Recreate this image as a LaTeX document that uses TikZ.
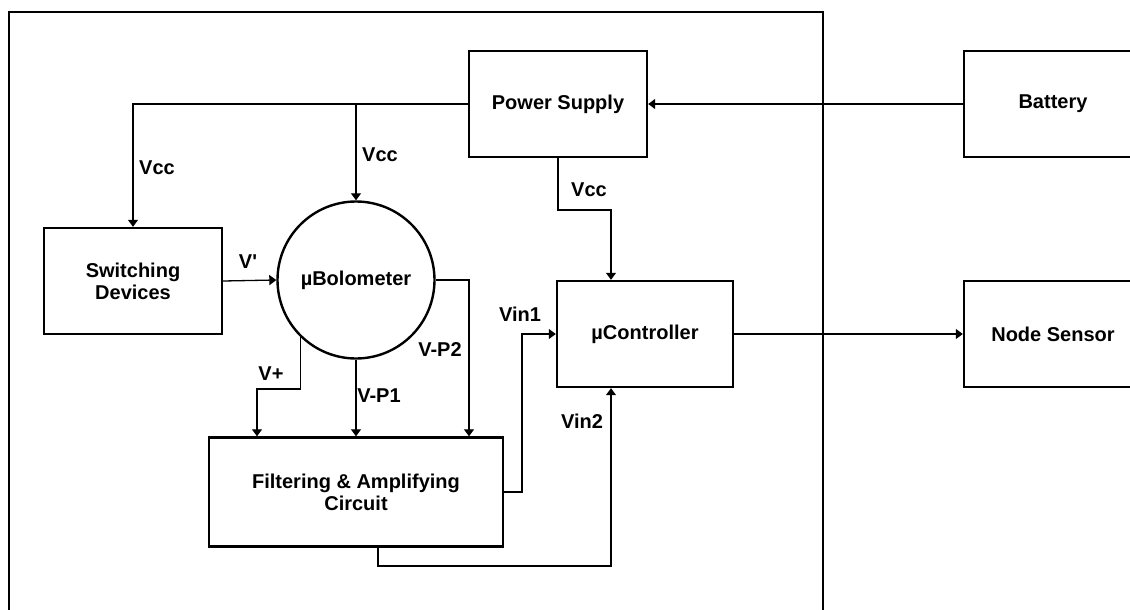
\documentclass[tikz,border=0pt]{standalone}
\usepackage{fontspec}
\setmainfont{Liberation Sans}
\newfontfamily\rawsans{Liberation Sans}
\usetikzlibrary{arrows.meta,calc}
\begin{document}
\begin{tikzpicture}[x=1pt,y=-1pt,
  box/.style={draw,line width=2.4pt,minimum width=178pt,minimum height=106pt,inner sep=0pt,align=center,font=\fontsize{20}{22}\selectfont\bfseries},
  circ/.style={draw,circle,line width=2.4pt,minimum size=157pt,inner sep=0pt,font=\fontsize{20}{22}\selectfont\bfseries},
  lbl/.style={inner sep=0pt,font=\fontsize{20}{22}\selectfont\bfseries},
  arr/.style={line width=1.3pt,-{Triangle[width=10pt,length=7pt]}},
  wire/.style={line width=1.3pt}]
\useasboundingbox (0,0) rectangle (1130,610);
\clip (0,0) rectangle (1130,610);
\fill[white] (0,0) rectangle (1130,610);
% frame
\draw[line width=1.5pt] (9,620) -- (9,12) -- (823,12) -- (823,620);
% nodes
\node[box] (ps) at (558,104) {Power Supply};
\node[box] (bat) at (1053,104) {Battery};
\node[box] (sw) at (133,281) {Switching\\Devices};
\node[circ] (bolo) at (356,280) {µBolometer};
\node[box,minimum width=294pt,minimum height=109pt] (fa) at (356,492) {Filtering \& Amplifying\\Circuit};
\node[box,minimum width=176pt] (uc) at (645,334) {µController};
\node[box] (ns) at (1053,334) {Node Sensor};
% helper coordinates
\coordinate (vpk) at (257,389);
\coordinate (vp2) at (469,280);
\coordinate (v1) at (522,492);
\coordinate (v2) at (378,566);
\coordinate (ucin) at (611,334);
\coordinate (vcc3) at (558,210);
% connectors
\draw[arr] (bat.west) -- (ps.east);
\draw[arr] (ps.west) -| (sw.north);
\draw[arr] (bolo.north |- ps.west) -- (bolo.north);
\draw[arr] (sw.east) -- (bolo.west);
\draw[arr] (bolo.226) |- (vpk) -- (vpk |- fa.north);
\draw[arr] (bolo.south) -- (bolo.south |- fa.north);
\draw[arr] (bolo.east) -- (vp2) -- (vp2 |- fa.north);
\draw[arr] (fa.east) -- (v1) -- (v1 |- uc.west) -- (uc.west);
\draw[arr] (v2 |- fa.south) -- (v2) -| (ucin |- uc.south);
\draw[arr] (ps.south) -- (vcc3) -| (ucin |- uc.north);
\draw[arr] (uc.east) -- (ns.west);
% labels
\node[lbl] (l1) at (157,168) {Vcc};
\node[lbl] (l2) at (380,155) {Vcc};
\node[lbl] (l3) at (589,190) {Vcc};
\node[lbl] (l4) at (248,262) {\rawsans\bfseries V'};
\node[lbl] (l5) at (271,374) {V+};
\node[lbl] (l6) at (379,396) {V-P1};
\node[lbl] (l7) at (440,350) {V-P2};
\node[lbl] (l8) at (520,314) {Vin1};
\node[lbl] (l9) at (582,421) {Vin2};
\end{tikzpicture}
\end{document}
